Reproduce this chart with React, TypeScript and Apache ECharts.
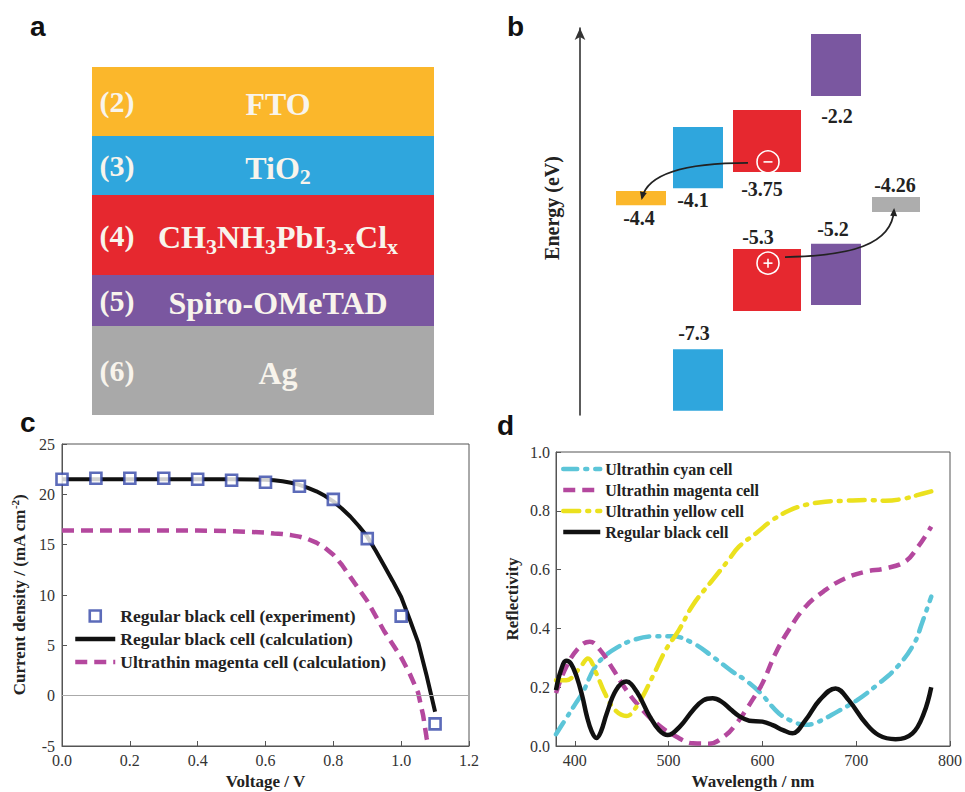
import React, { useEffect, useRef } from 'react';
import * as echarts from 'echarts';

const SERIF = "'Liberation Serif', 'Times New Roman', serif";
const SANS = "'Liberation Sans', Arial, sans-serif";

// ---------- Panel a: device layers ----------
const layerIds = ['(2)', '(3)', '(4)', '(5)', '(6)'];
const layerLabels = [
  '{m|FTO}',
  '{m|TiO}{s|2}',
  '{m|CH}{s|3}{m|NH}{s|3}{m|PbI}{s|3-x}{m|Cl}{s|x}',
  '{m|Spiro-OMeTAD}',
  '{m|Ag}',
];
const layerThickness = [69, 59, 80, 51, 89];
const layerColors = ['#FBB72B', '#2FA6DD', '#E6282F', '#7A57A0', '#A9A9A9'];

// ---------- Panel b: energy levels ----------
// [x0, x1, energyTop, energyBottom]
const bandBoxes = [
  [3.6, 8.6, -4.15, -4.46],
  [9.3, 14.3, -2.76, -4.09],
  [9.3, 14.3, -7.59, -8.93],
  [15.3, 22.1, -2.39, -3.74],
  [15.3, 22.1, -5.41, -6.76],
  [23.1, 28.1, -0.74, -2.09],
  [23.1, 28.1, -5.3, -6.63],
  [29.2, 34.0, -4.28, -4.61],
];
const bandColors = ['#FBB72B', '#2FA6DD', '#2FA6DD', '#E6282F', '#E6282F', '#7A57A0', '#7A57A0', '#ADADAD'];
const levelLabels = ['-4.4', '-4.1', '-3.75', '-2.2', '-4.26', '-5.2', '-5.3', '-7.3'];
const levelLabelX = [5.9, 11.3, 18.2, 25.7, 31.5, 25.3, 17.8, 11.4];
const levelLabelE = [-4.74, -4.35, -4.11, -2.52, -4.02, -4.98, -5.15, -7.24];
const chargeSigns = ['-', '+'];
const chargeX = [18.8, 18.8];
const chargeE = [-3.52, -5.72];
const transferPaths = [
  [[16.8, -3.543], [11.0, -3.543], [6.8, -3.739], [6.2, -4.304]],
  [[20.5, -5.587], [27.0, -5.565], [31.2, -5.326], [31.4, -4.565]],
];

// ---------- Panel c: J-V ----------
const expVoltage = [0, 0.1, 0.2, 0.3, 0.4, 0.5, 0.6, 0.7, 0.8, 0.9, 1.0, 1.1];
const expCurrent = [21.5, 21.6, 21.6, 21.6, 21.5, 21.4, 21.2, 20.8, 19.5, 15.6, 7.9, -2.8];
const blackCalcVoltage = [0, 0.1, 0.2, 0.3, 0.4, 0.5, 0.6, 0.625, 0.65, 0.675, 0.7, 0.725, 0.75, 0.775, 0.8, 0.825, 0.85, 0.875, 0.9, 0.925, 0.95, 0.975, 1.0, 1.025, 1.05, 1.075, 1.1];
const blackCalcCurrent = [21.5, 21.5, 21.5, 21.5, 21.5, 21.5, 21.45, 21.4, 21.3, 21.15, 20.95, 20.65, 20.3, 19.85, 19.3, 18.6, 17.8, 16.85, 15.8, 14.4, 12.9, 11.4, 9.8, 7.6, 5.3, 2.0, -1.6];
const magentaCalcVoltage = [0, 0.1, 0.2, 0.3, 0.4, 0.5, 0.6, 0.625, 0.65, 0.675, 0.7, 0.725, 0.75, 0.775, 0.8, 0.825, 0.85, 0.875, 0.9, 0.925, 0.95, 0.975, 1.0, 1.025, 1.05, 1.065, 1.075, 1.08];
const magentaCalcCurrent = [16.4, 16.4, 16.4, 16.4, 16.4, 16.35, 16.2, 16.1, 16.05, 15.95, 15.8, 15.55, 15.2, 14.7, 14.0, 13.0, 11.8, 10.6, 9.4, 7.9, 6.4, 5.1, 3.8, 2.2, 0.3, -2.0, -4.2, -5.0];

// ---------- Panel d: reflectivity ----------
const cyanCell = [[380, 0.04], [390, 0.09], [400, 0.14], [409, 0.185], [420, 0.26], [430, 0.3], [444, 0.333], [462, 0.36], [483, 0.373], [504, 0.373], [526, 0.35], [547, 0.304], [568, 0.253], [582, 0.224], [598, 0.18], [618, 0.11], [635, 0.08], [646, 0.072], [658, 0.08], [680, 0.117], [701, 0.156], [722, 0.207], [744, 0.27], [762, 0.35], [770, 0.417], [780, 0.508]];
const magentaCell = [[380, 0.18], [391, 0.27], [405, 0.337], [416, 0.355], [427, 0.327], [441, 0.26], [455, 0.19], [469, 0.134], [487, 0.077], [508, 0.032], [526, 0.009], [543, 0.008], [561, 0.037], [572, 0.075], [582, 0.12], [591, 0.165], [600, 0.213], [614, 0.315], [628, 0.394], [646, 0.474], [667, 0.53], [688, 0.57], [710, 0.593], [731, 0.604], [752, 0.627], [766, 0.678], [780, 0.746]];
const yellowCell = [[380, 0.224], [391, 0.224], [405, 0.264], [414, 0.298], [423, 0.247], [432, 0.18], [443, 0.122], [455, 0.102], [467, 0.14], [483, 0.236], [497, 0.327], [511, 0.394], [526, 0.48], [547, 0.565], [564, 0.633], [575, 0.678], [593, 0.723], [611, 0.769], [628, 0.8], [646, 0.82], [667, 0.831], [688, 0.834], [710, 0.837], [731, 0.834], [752, 0.842], [766, 0.854], [780, 0.866]];
const blackCell = [[380, 0.19], [385, 0.255], [391, 0.29], [396, 0.28], [402, 0.236], [408, 0.17], [413, 0.1], [418, 0.05], [423, 0.027], [428, 0.05], [434, 0.11], [444, 0.19], [455, 0.219], [466, 0.185], [480, 0.1], [490, 0.054], [499, 0.037], [512, 0.066], [526, 0.122], [537, 0.155], [547, 0.162], [556, 0.152], [566, 0.125], [576, 0.1], [586, 0.086], [600, 0.083], [611, 0.071], [622, 0.054], [632, 0.043], [646, 0.088], [661, 0.156], [678, 0.196], [692, 0.156], [710, 0.078], [724, 0.037], [742, 0.023], [760, 0.043], [772, 0.11], [780, 0.2]];

const C_BLUE_SQ = '#3346A8';
const C_MAGENTA = '#B4489E';
const C_CYAN = '#5CC5D8';
const C_YELLOW = '#EBE11E';
const C_BLACK = '#111111';
const TEXT_LIGHT = '#F8F4EC';

const hiddenSymbol = { color: 'transparent', opacity: 0, borderWidth: 0 };

function buildOption(): any {
  const layerData: number[][] = [];
  let acc = 0;
  layerThickness.forEach((t) => {
    layerData.push([acc, acc + t]);
    acc += t;
  });
  const totalThickness = acc;

  const tickLabel = { fontFamily: SERIF, fontSize: 16, color: '#333' };
  const axisLineStyle = { lineStyle: { color: '#555', width: 1 } };
  const titleStyle = { fontFamily: SERIF, fontWeight: 'bold', fontSize: 17, color: '#222' };

  return {
    animation: false,
    backgroundColor: '#ffffff',
    grid: [
      { left: 92, top: 67, width: 342, height: 348 },
      { left: 580, top: 28, width: 380, height: 387 },
      { left: 62, top: 444, width: 407, height: 302, show: true, borderColor: '#555', borderWidth: 1, backgroundColor: 'transparent' },
      { left: 556, top: 452, width: 397, height: 294, show: true, borderColor: '#555', borderWidth: 1, backgroundColor: 'transparent' },
    ],
    xAxis: [
      { gridIndex: 0, type: 'value', min: 0, max: 1, show: false },
      { gridIndex: 1, type: 'value', min: 0, max: 38, show: false },
      {
        gridIndex: 2, type: 'value', min: 0, max: 1.2, interval: 0.2,
        axisLine: { show: true, onZero: false, ...axisLineStyle },
        axisTick: { show: true, inside: true, length: 5, lineStyle: { color: '#555' } },
        axisLabel: { ...tickLabel, margin: 6, formatter: (v: number) => v.toFixed(1) },
        splitLine: { show: false },
        name: 'Voltage / V', nameLocation: 'middle', nameGap: 27, nameTextStyle: titleStyle,
      },
      {
        gridIndex: 3, type: 'value', min: 380, max: 800, splitNumber: 4,
        axisLine: { show: true, onZero: false, ...axisLineStyle },
        axisTick: { show: true, inside: true, length: 5, lineStyle: { color: '#555' } },
        axisLabel: { ...tickLabel, margin: 6, showMinLabel: false },
        splitLine: { show: false },
        name: 'Wavelength / nm', nameLocation: 'middle', nameGap: 27, nameTextStyle: titleStyle,
      },
    ],
    yAxis: [
      { gridIndex: 0, type: 'value', min: 0, max: totalThickness, inverse: true, show: false },
      {
        gridIndex: 1, type: 'value', min: -9.02, max: -0.61,
        axisLine: { show: true, symbol: ['none', 'arrow'], symbolSize: [8, 12], lineStyle: { color: '#333', width: 1.6 } },
        axisTick: { show: false }, axisLabel: { show: false }, splitLine: { show: false },
      },
      {
        gridIndex: 2, type: 'value', min: -5, max: 25, interval: 5,
        axisLine: { show: true, onZero: false, ...axisLineStyle },
        axisTick: { show: true, inside: true, length: 5, lineStyle: { color: '#555' } },
        axisLabel: { ...tickLabel, margin: 7 },
        splitLine: { show: false },
        name: '{a|Current density / (mA cm}{s|-2}{a|)}',
        nameLocation: 'middle', nameGap: 33,
        nameTextStyle: {
          ...titleStyle,
          rich: {
            a: { fontFamily: SERIF, fontWeight: 'bold', fontSize: 17, color: '#222', lineHeight: 20 },
            s: { fontFamily: SERIF, fontWeight: 'bold', fontSize: 11, color: '#222', lineHeight: 11, verticalAlign: 'top' },
          },
        },
      },
      {
        gridIndex: 3, type: 'value', min: 0, max: 1, interval: 0.2,
        axisLine: { show: true, onZero: false, ...axisLineStyle },
        axisTick: { show: true, inside: true, length: 5, lineStyle: { color: '#555' } },
        axisLabel: { ...tickLabel, margin: 6, formatter: (v: number) => v.toFixed(1) },
        splitLine: { show: false },
        name: 'Reflectivity', nameLocation: 'middle', nameGap: 35, nameTextStyle: titleStyle,
      },
    ],
    legend: [
      {
        left: 73, top: 607, orient: 'vertical', padding: 0, itemWidth: 40, itemHeight: 11, itemGap: 5,
        selectedMode: false,
        textStyle: { fontFamily: SERIF, fontWeight: 'bold', fontSize: 17.5, color: '#222', lineHeight: 17 },
        data: [
          { name: 'Regular black cell (experiment)', icon: 'path://M0,0H10V10H0Z', itemStyle: { color: '#ffffff', borderColor: C_BLUE_SQ, borderWidth: 2.6 } },
          { name: 'Regular black cell (calculation)', itemStyle: hiddenSymbol, lineStyle: { color: C_BLACK, width: 4.5, type: 'solid' } },
          { name: 'Ultrathin magenta cell (calculation)', itemStyle: hiddenSymbol, lineStyle: { color: C_MAGENTA, width: 4.5, type: [12, 7] } },
        ],
      },
      {
        left: 561, top: 461, orient: 'vertical', padding: 0, itemWidth: 37, itemHeight: 11, itemGap: 5,
        selectedMode: false,
        textStyle: { fontFamily: SERIF, fontWeight: 'bold', fontSize: 16, color: '#222', lineHeight: 16 },
        data: [
          { name: 'Ultrathin cyan cell', itemStyle: hiddenSymbol, lineStyle: { color: C_CYAN, width: 4.5, type: [14, 8, 2, 8], cap: 'round' } },
          { name: 'Ultrathin magenta cell', itemStyle: hiddenSymbol, lineStyle: { color: C_MAGENTA, width: 4.5, type: [12, 7] } },
          { name: 'Ultrathin yellow cell', itemStyle: hiddenSymbol, lineStyle: { color: C_YELLOW, width: 4.5, type: [16, 8, 2, 8], cap: 'round' } },
          { name: 'Regular black cell', itemStyle: hiddenSymbol, lineStyle: { color: C_BLACK, width: 4.5, type: 'solid' } },
        ],
      },
    ],
    graphic: [
      { type: 'text', left: 30, top: 12, style: { text: 'a', font: `bold 28px ${SANS}`, fill: '#111' } },
      { type: 'text', left: 507, top: 12, style: { text: 'b', font: `bold 28px ${SANS}`, fill: '#111' } },
      { type: 'text', left: 20, top: 408, style: { text: 'c', font: `bold 28px ${SANS}`, fill: '#111' } },
      { type: 'text', left: 497, top: 411, style: { text: 'd', font: `bold 28px ${SANS}`, fill: '#111' } },
      {
        type: 'text', x: 552, y: 208, rotation: Math.PI / 2,
        style: { text: 'Energy (eV)', fontFamily: SERIF, fontWeight: 'bold', fontSize: 20, fill: '#222', align: 'center', verticalAlign: 'middle' },
      },
    ],
    series: [
      // panel a
      {
        type: 'custom', xAxisIndex: 0, yAxisIndex: 0, silent: true,
        data: layerData,
        renderItem: (params: any, api: any) => {
          const i = params.dataIndex;
          const p0 = api.coord([0, api.value(0)]);
          const p1 = api.coord([1, api.value(1)]);
          const cy = (p0[1] + p1[1]) / 2;
          const idX = api.coord([0.073, 0])[0];
          const nameX = api.coord([0.544, 0])[0];
          return {
            type: 'group',
            children: [
              { type: 'rect', shape: { x: p0[0], y: p0[1], width: p1[0] - p0[0], height: p1[1] - p0[1] }, style: { fill: layerColors[i] } },
              {
                type: 'text', x: idX, y: cy,
                style: { text: layerIds[i], fontFamily: SERIF, fontWeight: 'bold', fontSize: 30, fill: TEXT_LIGHT, align: 'center', verticalAlign: 'middle' },
              },
              {
                type: 'text', x: nameX, y: cy + 2,
                style: {
                  text: layerLabels[i], align: 'center', verticalAlign: 'middle', fill: TEXT_LIGHT,
                  rich: {
                    m: { fontFamily: SERIF, fontWeight: 'bold', fontSize: 32, lineHeight: 40, fill: TEXT_LIGHT },
                    s: { fontFamily: SERIF, fontWeight: 'bold', fontSize: 22, lineHeight: 20, verticalAlign: 'bottom', fill: TEXT_LIGHT },
                  },
                },
              },
            ],
          };
        },
      },
      // panel b boxes
      {
        type: 'custom', xAxisIndex: 1, yAxisIndex: 1, silent: true,
        data: bandBoxes,
        renderItem: (params: any, api: any) => {
          const i = params.dataIndex;
          const p0 = api.coord([api.value(0), api.value(2)]);
          const p1 = api.coord([api.value(1), api.value(3)]);
          return {
            type: 'rect',
            shape: { x: p0[0], y: p0[1], width: p1[0] - p0[0], height: p1[1] - p0[1] },
            style: { fill: bandColors[i] },
          };
        },
      },
      // panel b level labels
      {
        type: 'custom', xAxisIndex: 1, yAxisIndex: 1, silent: true,
        data: levelLabelX.map((x, i) => [x, levelLabelE[i]]),
        renderItem: (params: any, api: any) => {
          const p = api.coord([api.value(0), api.value(1)]);
          return {
            type: 'text', x: p[0], y: p[1],
            style: { text: levelLabels[params.dataIndex], fontFamily: SERIF, fontWeight: 'bold', fontSize: 20, fill: '#222', align: 'center', verticalAlign: 'middle' },
          };
        },
      },
      // panel b charges and transfer arrows
      {
        type: 'custom', xAxisIndex: 1, yAxisIndex: 1, silent: true,
        data: chargeX.map((x, i) => [x, chargeE[i]]),
        renderItem: (params: any, api: any) => {
          const i = params.dataIndex;
          const c = api.coord([api.value(0), api.value(1)]);
          const r = 11;
          const children: any[] = [
            { type: 'circle', shape: { cx: c[0], cy: c[1], r }, style: { fill: 'none', stroke: '#fff', lineWidth: 1.6 } },
            { type: 'line', shape: { x1: c[0] - 4.5, y1: c[1], x2: c[0] + 4.5, y2: c[1] }, style: { stroke: '#fff', lineWidth: 1.6 } },
          ];
          if (chargeSigns[i] === '+') {
            children.push({ type: 'line', shape: { x1: c[0], y1: c[1] - 4.5, x2: c[0], y2: c[1] + 4.5 }, style: { stroke: '#fff', lineWidth: 1.6 } });
          }
          const pts = transferPaths[i].map((pt) => api.coord(pt));
          children.push({
            type: 'bezierCurve',
            shape: { x1: pts[0][0], y1: pts[0][1], cpx1: pts[1][0], cpy1: pts[1][1], cpx2: pts[2][0], cpy2: pts[2][1], x2: pts[3][0], y2: pts[3][1] },
            style: { stroke: '#222', lineWidth: 1.8, fill: 'none' },
          });
          const dx = pts[3][0] - pts[2][0];
          const dy = pts[3][1] - pts[2][1];
          const len = Math.sqrt(dx * dx + dy * dy) || 1;
          const ux = dx / len, uy = dy / len;
          const tip = [pts[3][0] + ux * 2, pts[3][1] + uy * 2];
          const base = [tip[0] - ux * 8, tip[1] - uy * 8];
          children.push({
            type: 'polygon',
            shape: { points: [tip, [base[0] - uy * 3.5, base[1] + ux * 3.5], [base[0] + uy * 3.5, base[1] - ux * 3.5]] },
            style: { fill: '#222' },
          });
          return { type: 'group', children };
        },
      },
      // panel c
      {
        name: 'Regular black cell (experiment)', type: 'scatter', xAxisIndex: 2, yAxisIndex: 2, z: 5,
        symbol: 'path://M0,0H10V10H0Z', symbolSize: 11,
        itemStyle: { color: '#ffffff', borderColor: C_BLUE_SQ, borderWidth: 2.6 },
        data: expVoltage.map((v, i) => [v, expCurrent[i]]),
      },
      {
        name: 'Regular black cell (calculation)', type: 'line', xAxisIndex: 2, yAxisIndex: 2, z: 3,
        symbol: 'none', smooth: false,
        lineStyle: { color: C_BLACK, width: 4, join: 'round' },
        itemStyle: { color: C_BLACK },
        data: blackCalcVoltage.map((v, i) => [v, blackCalcCurrent[i]]),
        markLine: {
          silent: true, symbol: ['none', 'none'], label: { show: false },
          lineStyle: { color: '#aaa', width: 1, type: 'solid' },
          data: [{ yAxis: 0 }],
        },
      },
      {
        name: 'Ultrathin magenta cell (calculation)', type: 'line', xAxisIndex: 2, yAxisIndex: 2, z: 2,
        symbol: 'none', smooth: false,
        lineStyle: { color: C_MAGENTA, width: 4.5, type: [12, 7] },
        itemStyle: { color: C_MAGENTA },
        data: magentaCalcVoltage.map((v, i) => [v, magentaCalcCurrent[i]]),
      },
      // panel d
      {
        name: 'Ultrathin cyan cell', type: 'line', xAxisIndex: 3, yAxisIndex: 3,
        symbol: 'none', smooth: 0.4,
        lineStyle: { color: C_CYAN, width: 4.5, type: [14, 8, 2, 8], cap: 'round' },
        itemStyle: { color: C_CYAN },
        data: cyanCell,
      },
      {
        name: 'Ultrathin magenta cell', type: 'line', xAxisIndex: 3, yAxisIndex: 3,
        symbol: 'none', smooth: 0.4,
        lineStyle: { color: C_MAGENTA, width: 4.5, type: [12, 7] },
        itemStyle: { color: C_MAGENTA },
        data: magentaCell,
      },
      {
        name: 'Ultrathin yellow cell', type: 'line', xAxisIndex: 3, yAxisIndex: 3,
        symbol: 'none', smooth: 0.4,
        lineStyle: { color: C_YELLOW, width: 4.5, type: [16, 8, 2, 8], cap: 'round' },
        itemStyle: { color: C_YELLOW },
        data: yellowCell,
      },
      {
        name: 'Regular black cell', type: 'line', xAxisIndex: 3, yAxisIndex: 3,
        symbol: 'none', smooth: 0.4,
        lineStyle: { color: C_BLACK, width: 4.5 },
        itemStyle: { color: C_BLACK },
        data: blackCell,
      },
    ],
  };
}

export default function App() {
  const ref = useRef<HTMLDivElement>(null);
  useEffect(() => {
    if (!ref.current) return;
    const chart = echarts.init(ref.current, null, { renderer: 'svg' });
    chart.setOption(buildOption());
    return () => chart.dispose();
  }, []);
  return (
    <div
      ref={ref}
      style={{ position: 'absolute', left: 0, top: 0, width: 965, height: 792, background: '#fff' }}
    />
  );
}
